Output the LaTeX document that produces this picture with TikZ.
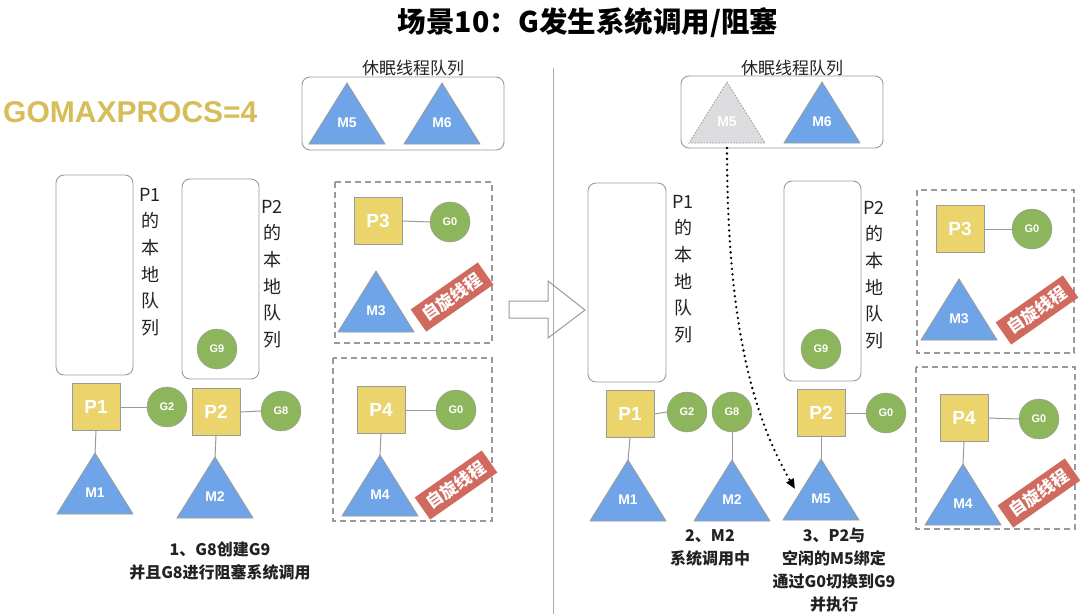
\documentclass[tikz,border=0pt]{standalone}
\usepackage{fontspec}
\setmainfont{Liberation Sans}
\newfontfamily\cjk{Noto Sans CJK SC}
\usetikzlibrary{arrows.meta}
\definecolor{pyel}{HTML}{EAD46B}
\definecolor{ggreen}{HTML}{8DB65C}
\definecolor{mblue}{HTML}{6FA5E8}
\definecolor{edgec}{HTML}{9A9A9A}
\definecolor{stampred}{HTML}{D06A5E}
\definecolor{gold}{HTML}{D6BD57}
\definecolor{mgray}{HTML}{DCDCDE}
\definecolor{txt}{HTML}{222222}
\tikzset{
  pbox/.style={draw=edgec, fill=pyel, line width=1pt, minimum width=48pt, minimum height=47pt, inner sep=0pt, text=white, font=\fontsize{19}{19}\selectfont\bfseries},
  gcirc/.style={circle, draw=edgec, fill=ggreen, minimum size=40pt, inner sep=0pt, text=white, font=\fontsize{11}{11}\selectfont\bfseries},
  queue/.style={draw=edgec, rounded corners=8pt, line width=0.9pt},
  link/.style={draw=edgec, line width=1pt},
  dbox/.style={draw=edgec, dash pattern=on 6pt off 4pt, line width=1.2pt},
  stamp/.style={fill=stampred, text=white, rotate=35, font=\cjk\bfseries\fontsize{17}{17}\selectfont, minimum width=82pt, minimum height=27pt, inner sep=0pt},
  mtri/.style={draw=edgec, fill=mblue, line width=0.8pt},
  mghost/.style={draw=edgec, fill=mgray, line width=0.8pt, dash pattern=on 1.5pt off 1.5pt},
  mlabel/.style={text=white, font=\fontsize{14}{14}\selectfont\bfseries},
  qlabel/.style={text=txt, align=center, inner sep=0pt, font=\cjk\fontsize{18}{26.6}\selectfont},
  caption/.style={text=txt, align=center, inner sep=0pt, font=\cjk\bfseries\fontsize{16}{23}\selectfont},
  sleeplabel/.style={text=txt, inner sep=0pt, font=\cjk\fontsize{17}{17}\selectfont},
  hollowarrow/.style={draw=edgec, line width=1pt},
  divider/.style={draw=edgec!80, line width=0.9pt},
  dotarrow/.style={draw=black, line width=2.6pt, line cap=round, dash pattern=on 0pt off 5.5pt, -{Triangle[length=10pt,width=8pt]}}
}
\newcommand\drawM[5]{%
  \coordinate (#1) at (#2,#3);
  \draw[#5] (#1) -- ++(38,61) -- ++(-76,0) -- cycle;
  \node[mlabel] (#1l) at ([yshift=-40pt]#1) {#4};
}
\begin{document}
\begin{tikzpicture}[x=1pt,y=-1pt]
\useasboundingbox (0,0) rectangle (1080,614);
\fill[white] (0,0) rectangle (1080,614);

% title
\node[text=black, font=\cjk\bfseries\fontsize{28.5}{28.5}\selectfont, inner sep=0pt] (title) at (588,23) {场景10：G发生系统调用/阻塞};
\node[text=gold, font=\fontsize{30}{30}\selectfont\bfseries, anchor=west, inner sep=0pt] (gmp) at (3,112) {GOMAXPROCS=4};

% divider
\draw[divider] (553,68) -- (553,614);

% hollow arrow
\draw[hollowarrow] (509,301) -- (548,301) -- (548,281) -- (585,310) -- (548,338) -- (548,318) -- (509,318) -- cycle;

% ================= LEFT =================
\node[sleeplabel] (sl1) at (413,68) {休眠线程队列};
\draw[queue] (302,77) rectangle (504,150);
\drawM{lm5}{347}{83}{M5}{mtri}
\drawM{lm6}{442}{83}{M6}{mtri}

\draw[queue] (56,175) rectangle (133,375);
\node[qlabel] (lq1) at (150,262) {P1\\的\\本\\地\\队\\列};
\draw[queue] (182,179) rectangle (259,379);
\node[gcirc] (lg9) at (217,349) {G9};
\node[qlabel] (lq2) at (272,274) {P2\\的\\本\\地\\队\\列};

\draw[dbox] (335,182) rectangle (492,343);
\node[pbox] (lp3) at (378,221) {P3};
\node[gcirc] (lg0a) at (450,222) {G0};
\draw[link] (lp3.east) -- (lg0a.west);
\drawM{lm3}{376}{271}{M3}{mtri}
\node[stamp] (ls1) at (452,297) {自旋线程};

\draw[dbox] (333,358) rectangle (492,521);
\node[pbox] (lp4) at (381,410) {P4};
\node[gcirc] (lg0b) at (456,410) {G0};
\draw[link] (lp4.east) -- (lg0b.west);
\drawM{lm4}{380}{455}{M4}{mtri}
\draw[link] (lp4.south) -- (lm4);
\node[stamp] (ls2) at (456,485) {自旋线程};

\node[pbox] (lp1) at (96,407) {P1};
\node[gcirc] (lg2) at (167,407) {G2};
\draw[link] (lp1.east) -- (lg2.west);
\drawM{lm1}{95}{453}{M1}{mtri}
\draw[link] (lp1.south) -- (lm1);

\node[pbox] (lp2) at (216,412) {P2};
\node[gcirc] (lg8) at (281,411) {G8};
\draw[link] (lp2.east) -- (lg8.west);
\drawM{lm2}{215}{457}{M2}{mtri}
\draw[link] (lp2.south) -- (lm2);

\node[caption] (cap1) at (220,561) {1、G8创建G9\\并且G8进行阻塞系统调用};

% ================= RIGHT =================
\node[sleeplabel] (sl2) at (792,68) {休眠线程队列};
\draw[queue] (681,76) rectangle (883,148);
\drawM{rm5g}{727}{82}{M5}{mghost}
\drawM{rm6}{822}{82}{M6}{mtri}

\draw[queue] (588,183) rectangle (666,382);
\node[qlabel] (rq1) at (683,269) {P1\\的\\本\\地\\队\\列};
\draw[queue] (784,181) rectangle (861,381);
\node[gcirc] (rg9) at (821,349) {G9};
\node[qlabel] (rq2) at (874,275) {P2\\的\\本\\地\\队\\列};

\draw[dbox] (917,190) rectangle (1074,353);
\node[pbox] (rp3) at (960,229) {P3};
\node[gcirc] (rg0a) at (1032,229) {G0};
\draw[link] (rp3.east) -- (rg0a.west);
\drawM{rm3}{959}{279}{M3}{mtri}
\node[stamp] (rs1) at (1037,310) {自旋线程};

\draw[dbox] (916,367) rectangle (1075,529);
\node[pbox] (rp4) at (964,418) {P4};
\node[gcirc] (rg0b) at (1039,419) {G0};
\draw[link] (rp4.east) -- (rg0b.west);
\drawM{rm4}{963}{464}{M4}{mtri}
\draw[link] (rp4.south) -- (rm4);
\node[stamp] (rs2) at (1039,493) {自旋线程};

\node[pbox] (rp1) at (630,414) {P1};
\node[gcirc] (rg2) at (687,412) {G2};
\draw[link] (rp1.east) -- (rg2.west);
\drawM{rm1}{628}{460}{M1}{mtri}
\draw[link] (rp1.south) -- (rm1);

\node[gcirc] (rg8) at (732,412) {G8};
\drawM{rm2}{732}{460}{M2}{mtri}
\draw[link] (rg8.south) -- (rm2);

\node[pbox] (rp2) at (821,413) {P2};
\node[gcirc] (rg0c) at (886,413) {G0};
\draw[link] (rp2.east) -- (rg0c.west);
\drawM{rm5}{821}{459}{M5}{mtri}
\draw[link] (rp2.south) -- (rm5);

\coordinate (rm5gb) at (727,148);
\coordinate (rm5in) at (795,489);
\draw[dotarrow] (rm5gb) .. controls (727,330) and (755,420) .. (rm5in);

\node[caption] (cap2) at (710,548) {2、M2\\系统调用中};
\node[caption] (cap3) at (834,570) {3、P2与\\空闲的M5绑定\\通过G0切换到G9\\并执行};
\end{tikzpicture}
\end{document}
